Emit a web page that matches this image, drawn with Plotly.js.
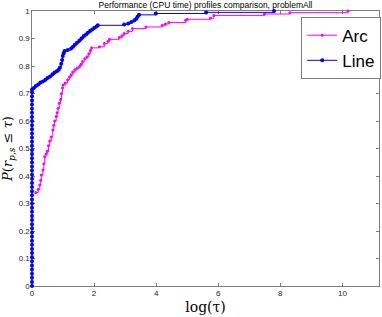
<!DOCTYPE html>
<html><head><meta charset="utf-8">
<script src="https://cdn.plot.ly/plotly-3.0.1.min.js"></script>
<style>html,body{margin:0;padding:0;background:#fff}#chart{width:382px;height:317px}</style>
</head><body><div id="chart"></div>
<script>
// Arc series (log(tau), P)
const arcX = [0.12,0.2,0.25,0.28,0.3,0.35,0.38,0.41,0.45,0.49,0.53,0.57,0.62,0.67,0.7,0.73,0.78,0.81,0.84,0.88,0.92,0.95,0.98,1.0,1.07,1.15,1.21,1.26,1.31,1.38,1.45,1.53,1.58,1.63,1.7,1.77,1.83,1.88,1.92,2.17,2.33,2.45,2.5,2.81,2.9,2.97,3.1,3.24,3.67,4.2,4.3,4.41,4.95,5.0,5.75,5.86,7.49,8.31,10.18];
const arcY = [0.34,0.352,0.367,0.385,0.404,0.422,0.445,0.47,0.48,0.49,0.51,0.527,0.542,0.567,0.585,0.6,0.616,0.63,0.646,0.665,0.678,0.7,0.72,0.731,0.738,0.75,0.76,0.768,0.778,0.786,0.792,0.798,0.806,0.816,0.826,0.834,0.845,0.856,0.866,0.87,0.882,0.89,0.897,0.904,0.91,0.918,0.926,0.936,0.942,0.948,0.953,0.958,0.966,0.97,0.974,0.984,0.989,0.994,1.0];
// Line series
const lineX = [0,0,0,0,0,0,0,0,0,0,0,0,0,0,0,0,0,0,0,0,0,0,0,0,0,0,0,0,0,0,0,0,0,0,0,0,0,0,0,0,0,0,0,0,0,0,0,0,0,
  0.06,0.12,0.2,0.27,0.35,0.43,0.5,0.58,0.66,0.73,0.8,0.86,0.9,0.94,0.97,0.99,1.02,1.05,1.15,1.26,1.32,1.38,1.45,1.53,1.6,1.67,1.74,1.8,1.87,1.94,2.01,2.08,2.12,2.97,3.1,3.2,3.3,3.36,3.4,3.45,3.99,5.61,7.8];
const lineY = [0,0.015,0.03,0.045,0.06,0.075,0.09,0.105,0.12,0.135,0.15,0.165,0.18,0.195,0.21,0.225,0.24,0.255,0.27,0.285,0.3,0.315,0.33,0.345,0.36,0.375,0.39,0.405,0.42,0.435,0.45,0.465,0.48,0.495,0.51,0.525,0.54,0.555,0.57,0.585,0.6,0.615,0.63,0.645,0.66,0.675,0.69,0.705,0.715,
  0.72,0.727,0.733,0.74,0.744,0.75,0.756,0.762,0.77,0.776,0.781,0.786,0.795,0.808,0.822,0.836,0.846,0.855,0.858,0.864,0.87,0.877,0.885,0.893,0.901,0.909,0.915,0.921,0.927,0.933,0.939,0.944,0.948,0.951,0.955,0.96,0.966,0.972,0.979,0.986,0.991,0.995,1.0];
const xTicks = [0,2,4,6,8,10];
const yTicks = [0,0.1,0.2,0.3,0.4,0.5,0.6,0.7,0.8,0.9,1];
const seriesNames = ['Arc','Line'];
const titleText = 'Performance (CPU time) profiles comparison, problemAll';

const traces = [
  {x: arcX, y: arcY, name: seriesNames[0], mode: 'lines+markers', cliponaxis: false, line: {shape: 'hv', color: '#ff00ff', width: 1}, marker: {size: 3, color: '#ff00ff'}},
  {x: lineX, y: lineY, name: seriesNames[1], mode: 'lines+markers', cliponaxis: false, line: {shape: 'hv', color: '#0000ff', width: 1}, marker: {size: 4, color: '#0000ff'}}
];
const axisCommon = {showline: true, mirror: 'ticks', linecolor: '#262626', linewidth: 0.6, ticks: 'inside', ticklen: 3, tickwidth: 0.6, tickcolor: '#262626', showgrid: false, zeroline: false, layer: 'below traces', tickfont: {family: 'Arial, Liberation Sans, sans-serif', size: 8, color: '#262626'}};
const layout = {
  width: 382, height: 317,
  margin: {l: 32, r: 1, t: 11, b: 31},
  paper_bgcolor: '#fff', plot_bgcolor: '#fff',
  title: {text: titleText, font: {family: 'Arial, Liberation Sans, sans-serif', size: 8.5, color: '#000'}, xref: 'paper', x: 0.5, yref: 'container', y: 0.984, yanchor: 'middle'},
  xaxis: Object.assign({}, axisCommon, {range: [0, 11.18], tickvals: xTicks, ticktext: xTicks.map(String),
    title: {text: 'log(τ)', font: {family: 'DejaVu Serif, Liberation Serif, serif', size: 14, color: '#000'}, standoff: 4}}),
  yaxis: Object.assign({}, axisCommon, {range: [0, 1], tickvals: yTicks, ticktext: yTicks.map(String),
    title: {text: '<i>P</i>(<i>r</i><sub><i>p,s</i></sub> ≤ <i>τ</i>)', font: {family: 'DejaVu Serif, Liberation Serif, serif', size: 13, color: '#000'}, standoff: 4}}),
  legend: {x: 0.777, y: 0.978, xanchor: 'left', yanchor: 'top', bgcolor: '#fff', bordercolor: '#262626', borderwidth: 0.6,
    font: {family: 'Arial, Liberation Sans, sans-serif', size: 17, color: '#000'}, itemwidth: 30, tracegroupgap: 0},
  showlegend: true
};
Plotly.newPlot('chart', traces, layout, {staticPlot: true, displayModeBar: false});
</script></body></html>
